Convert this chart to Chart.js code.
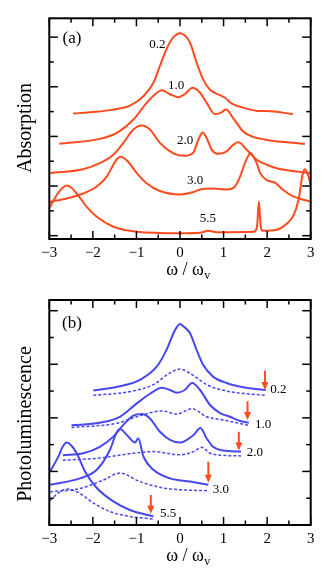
<!DOCTYPE html>
<html>
<head>
<meta charset="utf-8">
<script src="https://cdn.jsdelivr.net/npm/chart.js@4.4.1/dist/chart.umd.min.js"></script>
<style>
  html, body { margin: 0; padding: 0; background: #fff; }
  #wrap { position: relative; width: 332px; height: 581px; }
  canvas { position: absolute; left: 0; }
</style>
</head>
<body>
<div id="wrap">
  <canvas id="chartA" width="332" height="290" style="top:0"></canvas>
  <canvas id="chartB" width="332" height="291" style="top:290px"></canvas>
</div>
<script>
const SERIF = '"Liberation Serif", "Times New Roman", serif';
const RED = '#ff4a1e';
const BLUE = '#4848f0';

// ---- (a) absorption, one x/y pair per coupling value
const absX02 = [-2.45, -2.0, -1.53, -1.15, -0.84, -0.61, -0.46, -0.31, -0.15, 0, 0.12, 0.23, 0.38, 0.53, 0.69, 0.92, 1.03, 1.19, 1.45, 1.84, 1.99, 2.59];
const absY02 = [2.46, 2.49, 2.54, 2.62, 2.81, 3.08, 3.42, 3.76, 4.00, 4.08, 4.03, 3.89, 3.49, 3.15, 2.94, 2.83, 2.78, 2.66, 2.58, 2.51, 2.51, 2.45];
const absX10 = [-2.77, -1.84, -1.45, -1.07, -0.76, -0.53, -0.41, -0.23, -0.04, 0.11, 0.29, 0.46, 0.61, 0.80, 0.92, 1.06, 1.22, 1.45, 1.68, 1.99, 2.87];
const absY10 = [1.85, 1.95, 2.07, 2.34, 2.68, 2.88, 2.93, 2.85, 2.79, 2.85, 2.98, 2.88, 2.68, 2.45, 2.47, 2.54, 2.37, 2.10, 1.99, 1.93, 1.85];
const absX20 = [-2.98, -2.22, -1.84, -1.53, -1.30, -1.07, -0.88, -0.69, -0.46, -0.15, 0.11, 0.31, 0.42, 0.52, 0.61, 0.73, 0.88, 1.07, 1.22, 1.34, 1.53, 1.76, 1.99, 2.22, 2.98];
const absY20 = [1.26, 1.34, 1.46, 1.63, 1.87, 2.14, 2.22, 2.14, 1.87, 1.66, 1.61, 1.68, 1.93, 2.08, 1.97, 1.73, 1.65, 1.70, 1.83, 1.88, 1.73, 1.53, 1.43, 1.36, 1.26];
const absX30 = [-3.0, -2.60, -2.22, -1.91, -1.68, -1.53, -1.44, -1.36, -1.28, -1.19, -0.99, -0.76, -0.46, 0, 0.31, 0.46, 0.76, 1.07, 1.26, 1.38, 1.49, 1.62, 1.76, 1.84, 1.99, 2.18, 2.37, 2.60, 2.98];
const absY30 = [0.68, 0.75, 0.85, 0.99, 1.19, 1.43, 1.55, 1.59, 1.56, 1.49, 1.26, 1.05, 0.90, 0.83, 0.88, 0.93, 0.95, 0.93, 0.99, 1.19, 1.46, 1.66, 1.46, 1.26, 1.12, 1.07, 0.92, 0.79, 0.69];
const absX55 = [-3.0, -2.83, -2.70, -2.60, -2.50, -2.37, -2.14, -1.91, -1.53, -0.99, 0, 0.46, 0.65, 0.84, 1.70, 1.77, 1.81, 1.85, 1.90, 2.22, 2.45, 2.60, 2.72, 2.82, 2.87, 2.95, 3.0];
const absY55 = [0.55, 0.82, 0.96, 1.01, 0.97, 0.85, 0.58, 0.38, 0.18, 0.08, 0.05, 0.06, 0.10, 0.07, 0.08, 0.20, 0.69, 0.20, 0.10, 0.12, 0.24, 0.40, 0.72, 1.26, 1.34, 1.19, 1.02];

const absLabels = ['0.2', '1.0', '2.0', '3.0', '5.5'];
const absLabelX = [-0.52, -0.09, 0.12, 0.35, 0.64];
const absLabelY = [3.86, 3.02, 1.91, 1.11, 0.34];

// ---- (b) photoluminescence, solid and dotted
const plX02 = [-1.99, -1.38, -0.92, -0.53, -0.31, -0.15, -0.07, 0, 0.09, 0.23, 0.38, 0.53, 0.76, 1.07, 1.45, 1.97];
const plY02 = [2.51, 2.59, 2.71, 2.96, 3.27, 3.58, 3.70, 3.75, 3.70, 3.58, 3.27, 2.99, 2.77, 2.65, 2.57, 2.52];
const plX02d = [-1.99, -1.15, -0.61, -0.23, 0, 0.31, 0.61, 1.07, 1.97];
const plY02d = [2.42, 2.49, 2.62, 2.84, 2.91, 2.79, 2.62, 2.50, 2.42];
const plX10 = [-2.49, -1.84, -1.38, -0.99, -0.69, -0.41, -0.23, -0.08, 0.11, 0.28, 0.46, 0.69, 0.92, 1.15, 1.38, 1.58];
const plY10 = [1.86, 1.91, 2.02, 2.27, 2.45, 2.56, 2.52, 2.47, 2.52, 2.65, 2.52, 2.24, 2.09, 2.02, 1.94, 1.91];
const plX10d = [-2.49, -1.45, -0.92, -0.41, -0.08, 0.28, 0.61, 0.99, 1.58];
const plY10d = [1.82, 1.90, 2.04, 2.13, 2.07, 2.17, 2.02, 1.96, 1.86];
const plX20 = [-2.69, -2.22, -1.84, -1.53, -1.30, -1.07, -0.88, -0.69, -0.46, -0.23, 0, 0.31, 0.47, 0.61, 0.76, 0.99, 1.40];
const plY20 = [1.30, 1.34, 1.46, 1.65, 1.87, 2.04, 2.07, 1.99, 1.74, 1.59, 1.54, 1.68, 1.81, 1.62, 1.46, 1.39, 1.37];
const plX20d = [-2.69, -1.84, -1.07, -0.61, 0, 0.31, 0.50, 0.69, 0.99, 1.40];
const plY20d = [1.21, 1.25, 1.34, 1.37, 1.31, 1.37, 1.45, 1.34, 1.30, 1.29];
const plX30 = [-2.98, -2.30, -1.91, -1.61, -1.47, -1.38, -1.22, -1.03, -0.96, -0.84, -0.61, -0.23, 0.23, 0.65];
const plY30 = [0.75, 0.87, 1.03, 1.40, 1.70, 1.79, 1.68, 1.54, 1.62, 1.28, 1.03, 0.87, 0.81, 0.75];
const plX30d = [-2.98, -2.30, -1.76, -1.38, -0.92, -0.38, 0.23, 0.65];
const plY30d = [0.62, 0.68, 0.84, 0.97, 0.81, 0.69, 0.65, 0.64];
const plX55 = [-2.98, -2.79, -2.70, -2.60, -2.50, -2.37, -2.18, -1.91, -1.53, -1.15, -0.61];
const plY55 = [1.00, 1.28, 1.45, 1.54, 1.49, 1.34, 1.00, 0.69, 0.44, 0.28, 0.16];
const plX55d = [-2.98, -2.79, -2.60, -2.30, -1.99, -1.61, -1.15, -0.61];
const plY55d = [0.46, 0.60, 0.67, 0.59, 0.41, 0.25, 0.16, 0.11];

const plLabels = ['0.2', '1.0', '2.0', '3.0', '5.5'];
const plLabelX = [2.07, 1.72, 1.53, 0.75, -0.46];
const plLabelY = [2.52, 1.87, 1.36, 0.67, 0.21];

const arrowX = [1.95, 1.55, 1.35, 0.65, -0.67];
const arrowTop = [2.88, 2.31, 1.74, 1.18, 0.56];
const arrowTip = [2.52, 1.96, 1.39, 0.79, 0.21];

const pts = (xs, ys) => xs.map((x, i) => ({ x: x, y: ys[i] }));

const solid = (xs, ys, color) => ({
    data: pts(xs, ys), borderColor: color, borderWidth: 2,
    pointRadius: 0, showLine: true, cubicInterpolationMode: 'monotone'
});
const dotted = (xs, ys, color) => ({
    data: pts(xs, ys), borderColor: color, borderWidth: 1.5, borderDash: [3, 2],
    pointRadius: 0, showLine: true, cubicInterpolationMode: 'monotone'
});

// frame, inward ticks, titles and annotations
const framePlugin = {
    id: 'frame',
    afterDraw(chart, args, o) {
        const { ctx, chartArea: ca, scales: { x, y } } = chart;
        ctx.save();
        ctx.strokeStyle = '#000';
        ctx.lineWidth = 1.5;
        const seg = (x1, y1, x2, y2) => { ctx.beginPath(); ctx.moveTo(x1, y1); ctx.lineTo(x2, y2); ctx.stroke(); };
        for (let v = -3; v <= 3.001; v += 0.5) {
            const px = x.getPixelForValue(v);
            const len = Math.abs(v - Math.round(v)) < 1e-6 ? 8 : 4.5;
            seg(px, ca.bottom, px, ca.bottom - len);
            seg(px, ca.top, px, ca.top + len);
        }
        for (let v = Math.ceil(y.min * 2) / 2; v <= y.max + 1e-6; v += 0.5) {
            const py = y.getPixelForValue(v);
            const len = Math.abs(v - Math.round(v)) < 1e-6 ? 8.5 : 4.5;
            seg(ca.left, py, ca.left + len, py);
            seg(ca.right, py, ca.right - len, py);
        }
        ctx.lineWidth = 2;
        ctx.strokeRect(ca.left, ca.top, ca.width, ca.height);

        ctx.fillStyle = '#000';
        // y title
        ctx.save();
        ctx.translate(26, o.yTitleY);
        ctx.rotate(-Math.PI / 2);
        ctx.font = '20px ' + SERIF;
        ctx.textAlign = 'center';
        ctx.textBaseline = 'middle';
        ctx.fillText(o.yTitle, 0, 0);
        ctx.restore();

        // x title  ω / ω_v
        ctx.font = '18px ' + SERIF;
        ctx.textBaseline = 'middle';
        ctx.textAlign = 'left';
        const main = 'ω / ω';
        const w1 = ctx.measureText(main).width;
        ctx.font = '12px ' + SERIF;
        const w2 = ctx.measureText('v').width;
        const tx = 188 - (w1 + w2) / 2;
        const ty = ca.bottom + 31;
        ctx.font = '18px ' + SERIF;
        ctx.fillText(main, tx, ty);
        ctx.font = '12px ' + SERIF;
        ctx.fillText('v', tx + w1 + 0.5, ty + 6);

        // panel tag
        ctx.font = '17px ' + SERIF;
        ctx.textAlign = 'center';
        ctx.fillText(o.tag, 72, ca.top + o.tagDy);

        // curve labels
        ctx.font = '13px ' + SERIF;
        ctx.textAlign = o.labelAlign;
        o.labels.forEach((t, i) => {
            ctx.fillText(t, x.getPixelForValue(o.labelX[i]), y.getPixelForValue(o.labelY[i]));
        });

        // arrows
        if (o.arrows) {
            ctx.strokeStyle = RED;
            ctx.fillStyle = RED;
            ctx.lineWidth = 2;
            arrowX.forEach((ax, i) => {
                const px = x.getPixelForValue(ax);
                const p1 = y.getPixelForValue(arrowTop[i]);
                const p2 = y.getPixelForValue(arrowTip[i]);
                seg(px, p1, px, p2 - 6);
                ctx.beginPath();
                ctx.moveTo(px - 3.5, p2 - 8);
                ctx.lineTo(px + 3.5, p2 - 8);
                ctx.lineTo(px, p2);
                ctx.closePath();
                ctx.fill();
            });
        }
        ctx.restore();
    }
};

function makeChart(id, datasets, yMin, yMax, topPad, xHeight, frameOpts) {
    new Chart(document.getElementById(id), {
        type: 'scatter',
        data: { datasets: datasets },
        options: {
            responsive: false,
            animation: false,
            layout: { padding: { top: topPad, right: 21.3, left: 0, bottom: 0 } },
            plugins: { legend: { display: false }, tooltip: { enabled: false }, frame: frameOpts },
            scales: {
                x: {
                    type: 'linear', min: -3, max: 3,
                    grid: { display: false, drawTicks: false }, border: { display: false },
                    ticks: {
                        stepSize: 1, padding: 5, color: '#000',
                        font: { family: SERIF, size: 15 },
                        callback: v => (v < 0 ? '\u2212' + Math.abs(v) : String(v))
                    },
                    afterFit: s => { s.height = xHeight; }
                },
                y: {
                    type: 'linear', min: yMin, max: yMax,
                    grid: { display: false, drawTicks: false }, border: { display: false },
                    ticks: { display: false },
                    afterFit: s => { s.width = 49.3; }
                }
            }
        },
        plugins: [framePlugin]
    });
}

makeChart('chartA', [
    solid(absX02, absY02, RED),
    solid(absX10, absY10, RED),
    solid(absX20, absY20, RED),
    solid(absX30, absY30, RED),
    solid(absX55, absY55, RED)
], -0.067, 4.38, 18.3, 51, {
    yTitle: 'Absorption', yTitleY: 128, tag: '(a)', tagDy: 20,
    labels: absLabels, labelX: absLabelX, labelY: absLabelY, labelAlign: 'center', arrows: false
});

makeChart('chartB', [
    solid(plX02, plY02, BLUE), dotted(plX02d, plY02d, BLUE),
    solid(plX10, plY10, BLUE), dotted(plX10d, plY10d, BLUE),
    solid(plX20, plY20, BLUE), dotted(plX20d, plY20d, BLUE),
    solid(plX30, plY30, BLUE), dotted(plX30d, plY30d, BLUE),
    solid(plX55, plY55, BLUE), dotted(plX55d, plY55d, BLUE)
], 0, 4.2, 10, 56, {
    yTitle: 'Photoluminescence', yTitleY: 134, tag: '(b)', tagDy: 24,
    labels: plLabels, labelX: plLabelX, labelY: plLabelY, labelAlign: 'left', arrows: true
});
</script>
</body>
</html>
